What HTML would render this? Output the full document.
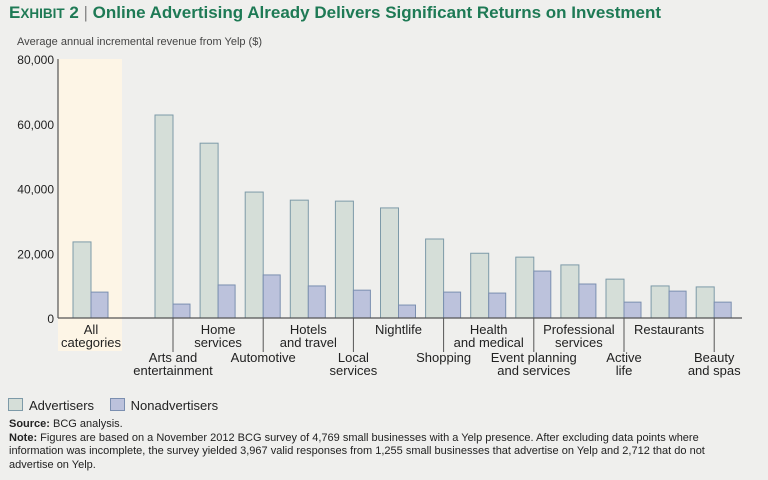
<!DOCTYPE html>
<html><head><meta charset="utf-8"><style>
body{margin:0;background:#efefed;font-family:"Liberation Sans",sans-serif;}
#wrap{position:relative;width:768px;height:480px;overflow:hidden;background:#efefed;}
.t{position:absolute;white-space:nowrap;}
</style></head><body>
<div id="wrap">
<div class="t" style="left:9px;top:3px;font-size:17px;font-weight:bold;color:#1e7a55;">E<span style="font-size:13.5px">XHIBIT</span> 2 <span style="font-weight:normal;color:#888">|</span> Online Advertising Already Delivers Significant Returns on Investment</div>
<div class="t" style="left:17px;top:36px;font-size:11px;color:#444;">Average annual incremental revenue from Yelp ($)</div>
<svg id="svg" width="768" height="400" style="position:absolute;left:0;top:0"></svg>
<div style="position:absolute;left:8px;top:398px;font-size:13px;color:#222;">
<span><span style="display:inline-block;width:13px;height:11px;background:#d5ded8;border:1px solid #7d9aa8;vertical-align:-1px;margin-right:6px"></span>Advertisers</span>
<span style="margin-left:12px"><span style="display:inline-block;width:13px;height:11px;background:#bcc2dc;border:1px solid #7b8fb0;vertical-align:-1px;margin-right:6px"></span>Nonadvertisers</span>
</div>
<div style="position:absolute;left:9px;top:418px;width:760px;font-size:11px;line-height:13.5px;color:#222;white-space:nowrap;">
<b>Source:</b> BCG analysis.<br><b>Note:</b> Figures are based on a November 2012 BCG survey of 4,769 small businesses with a Yelp presence. After excluding data points where<br>information was incomplete, the survey yielded 3,967 valid responses from 1,255 small businesses that advertise on Yelp and 2,712 that do not<br>advertise on Yelp.
</div>
</div>
<script>
const categories=["All categories","Arts and entertainment","Home services","Automotive","Hotels and travel","Local services","Nightlife","Shopping","Health and medical","Event planning and services","Professional services","Active life","Restaurants","Beauty and spas"];
const labelLines=[["All","categories"],["Arts and","entertainment"],["Home","services"],["Automotive"],["Hotels","and travel"],["Local","services"],["Nightlife"],["Shopping"],["Health","and medical"],["Event planning","and services"],["Professional","services"],["Active","life"],["Restaurants"],["Beauty","and spas"]];
const advertisers=[23500,62700,54000,38900,36400,36100,34000,24400,20000,18800,16400,12000,9900,9600];
const nonadvertisers=[8000,4300,10200,13300,9900,8600,4000,8000,7700,14500,10500,4900,8300,4900];
const yTicks=[0,20000,40000,60000,80000];
const yTickLabels=["0","20,000","40,000","60,000","80,000"];
const NS="http://www.w3.org/2000/svg",svg=document.getElementById('svg');
const y0=318,y1=59,yMax=80000;
const y=v=>y0-(y0-y1)*v/yMax;
const cx=i=>i===0?91:173+(i-1)*45.1;
const bw=18;
function el(t,a){const e=document.createElementNS(NS,t);for(const k in a)e.setAttribute(k,a[k]);svg.appendChild(e);return e;}
const hl=el('rect',{x:58,y:59,width:64,height:292,fill:'#fdf5e6'});


yTicks.forEach((v,i)=>{const t=el('text',{x:54,y:y(v)+5,'text-anchor':'end','font-size':12,fill:'#222','font-family':'Liberation Sans'});t.textContent=yTickLabels[i];

});
categories.forEach((c,i)=>{
const x=cx(i);
const a=el('rect',{x:x-bw,y:y(advertisers[i]),width:bw,height:y0-y(advertisers[i]),fill:'#d5ded8',stroke:'#7d9aa8','stroke-width':1});


const n=el('rect',{x:x,y:y(nonadvertisers[i]),width:bw-1,height:y0-y(nonadvertisers[i]),fill:'#bcc2dc',stroke:'#7b8fb0','stroke-width':1});


const low=i>0&&i%2===1;
const ly=low?362:334;
if(low){const l=el('line',{x1:x,y1:y0,x2:x,y2:352,stroke:'#555','stroke-width':1});

}
labelLines[i].forEach((s,k)=>{const t=el('text',{x:x,y:ly+k*13,'text-anchor':'middle','font-size':13,fill:'#222','font-family':'Liberation Sans'});t.textContent=s;

});
});
const ax=el('line',{x1:58,y1:y0,x2:742,y2:y0,stroke:'#555','stroke-width':1.2});


const ay=el('line',{x1:58,y1:y1,x2:58,y2:y0,stroke:'#555','stroke-width':1.2});


</script>
</body></html>
